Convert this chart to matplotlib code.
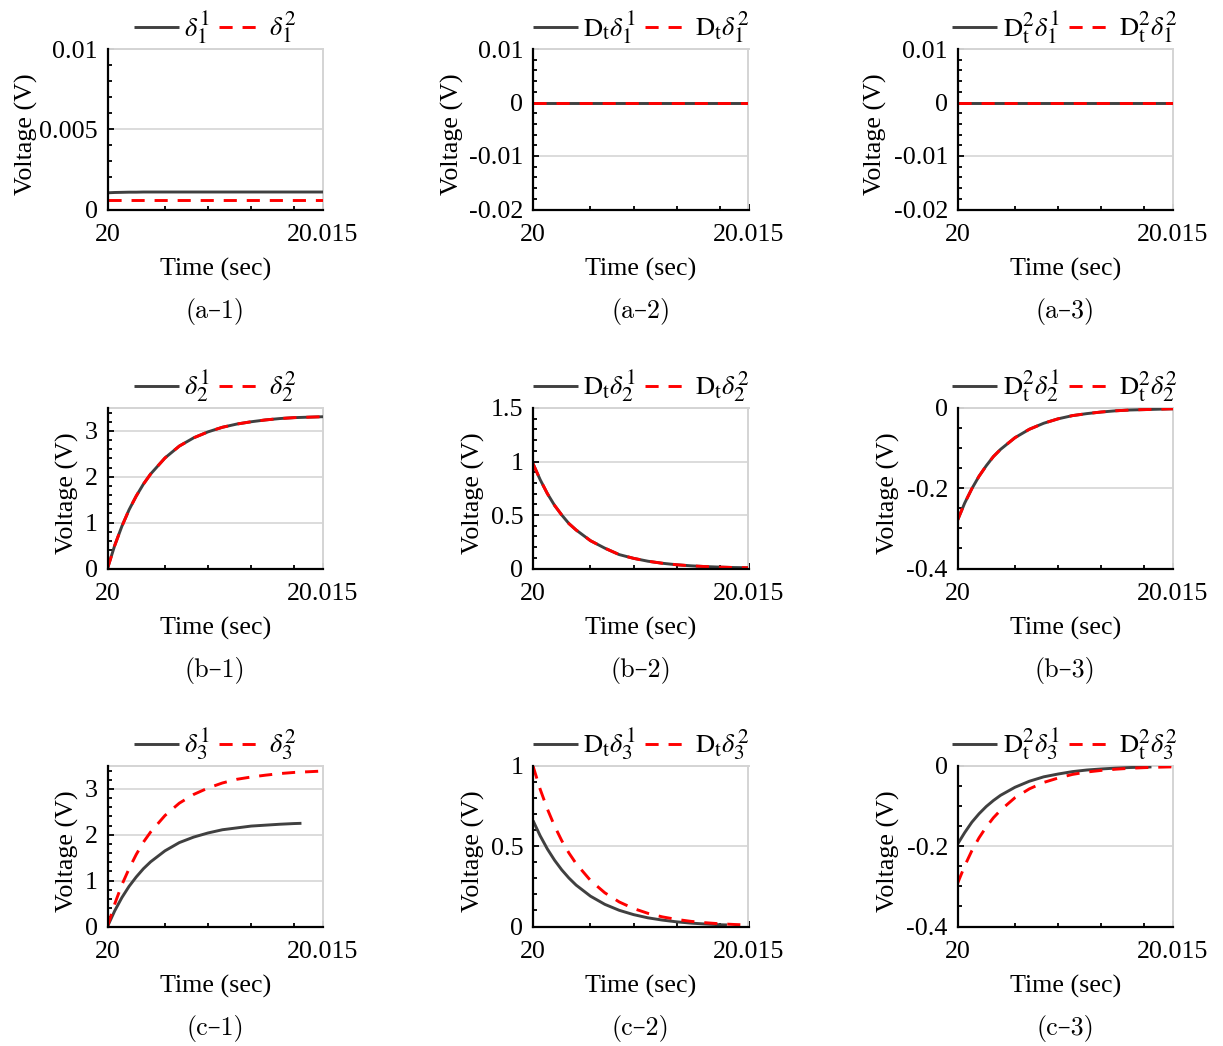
import numpy as np
import matplotlib
matplotlib.use('Agg')
import matplotlib.pyplot as plt
from matplotlib.ticker import FixedLocator, MultipleLocator

try:
    import matplotlib._mathtext as _mt
    _mt.SHRINK_FACTOR = 0.8
except Exception:
    pass

plt.rcParams['font.family'] = ['Liberation Serif', 'DejaVu Serif']
plt.rcParams['mathtext.fontset'] = 'stix'
plt.rcParams['axes.unicode_minus'] = False

# ---------------- data (time offsets in ms after t = 20 s) ----------------
t_ms = [0, 0.5, 1, 1.5, 2, 2.5, 3, 4, 5, 6, 7, 8, 9, 10, 11, 12, 13, 14, 15]
t_ms_short = [0, 0.5, 1, 1.5, 2, 2.5, 3, 4, 5, 6, 7, 8, 9, 10, 11, 12, 13, 13.5]

# row a
a1_solid = [0.00104, 0.00106, 0.00107, 0.00108, 0.00108, 0.00109, 0.00109, 0.00109, 0.00109,
            0.00109, 0.00109, 0.00109, 0.00109, 0.00109, 0.00109, 0.00109, 0.00109, 0.00109, 0.00109]
a1_dash = [0.00057, 0.00057, 0.00057, 0.00057, 0.00057, 0.00057, 0.00057, 0.00057, 0.00057,
           0.00057, 0.00057, 0.00057, 0.00057, 0.00057, 0.00057, 0.00057, 0.00057, 0.00057, 0.00057]
a2_solid = [0, 0, 0, 0, 0, 0, 0, 0, 0, 0, 0, 0, 0, 0, 0, 0, 0, 0, 0]
a2_dash = [0, 0, 0, 0, 0, 0, 0, 0, 0, 0, 0, 0, 0, 0, 0, 0, 0, 0, 0]
a3_solid = [0, 0, 0, 0, 0, 0, 0, 0, 0, 0, 0, 0, 0, 0, 0, 0, 0, 0, 0]
a3_dash = [0, 0, 0, 0, 0, 0, 0, 0, 0, 0, 0, 0, 0, 0, 0, 0, 0, 0, 0]

# row b
b1_solid = [0, 0.50, 0.92, 1.28, 1.58, 1.84, 2.06, 2.41, 2.67, 2.85, 2.98, 3.08, 3.15,
            3.20, 3.24, 3.27, 3.29, 3.30, 3.31]
b1_dash = [0, 0.50, 0.92, 1.28, 1.58, 1.84, 2.06, 2.41, 2.67, 2.85, 2.98, 3.08, 3.15,
           3.20, 3.24, 3.27, 3.29, 3.30, 3.31]
b2_solid = [0.98, 0.83, 0.70, 0.59, 0.50, 0.42, 0.36, 0.26, 0.19, 0.13, 0.095, 0.068,
            0.049, 0.035, 0.025, 0.018, 0.013, 0.009, 0.007]
b2_dash = [0.98, 0.83, 0.70, 0.59, 0.50, 0.42, 0.36, 0.26, 0.19, 0.13, 0.095, 0.068,
           0.049, 0.035, 0.025, 0.018, 0.013, 0.009, 0.007]
b3_solid = [-0.28, -0.237, -0.201, -0.170, -0.144, -0.121, -0.103, -0.074, -0.053, -0.038,
            -0.027, -0.019, -0.014, -0.010, -0.007, -0.005, -0.004, -0.003, -0.002]
b3_dash = [-0.28, -0.237, -0.201, -0.170, -0.144, -0.121, -0.103, -0.074, -0.053, -0.038,
           -0.027, -0.019, -0.014, -0.010, -0.007, -0.005, -0.004, -0.003, -0.002]

# row c (solid series stop near 20.0135 s)
c1_solid = [0, 0.34, 0.63, 0.875, 1.08, 1.26, 1.41, 1.65, 1.83, 1.95, 2.04, 2.11, 2.15,
            2.19, 2.21, 2.23, 2.245, 2.25]
c1_dash = [0, 0.49, 0.91, 1.26, 1.57, 1.84, 2.06, 2.42, 2.69, 2.88, 3.02, 3.13, 3.21,
           3.26, 3.30, 3.335, 3.36, 3.375, 3.39]
c2_solid = [0.66, 0.565, 0.483, 0.413, 0.353, 0.302, 0.258, 0.189, 0.138, 0.101, 0.074,
            0.054, 0.040, 0.029, 0.021, 0.0155, 0.011, 0.0097]
c2_dash = [1.0, 0.855, 0.732, 0.626, 0.535, 0.458, 0.392, 0.287, 0.210, 0.153, 0.112,
           0.082, 0.060, 0.044, 0.032, 0.0235, 0.017, 0.0126, 0.0092]
c3_solid = [-0.195, -0.166, -0.140, -0.119, -0.101, -0.086, -0.073, -0.053, -0.038, -0.027,
            -0.020, -0.014, -0.010, -0.0074, -0.0053, -0.0038, -0.0028, -0.0023]
c3_dash = [-0.293, -0.249, -0.211, -0.179, -0.152, -0.129, -0.110, -0.079, -0.057, -0.041,
           -0.030, -0.021, -0.015, -0.011, -0.008, -0.0057, -0.0041, -0.003, -0.0021]

# axis settings per panel
ylims = [[(0, 0.01), (-0.02, 0.01), (-0.02, 0.01)],
         [(0, 3.5), (0, 1.5), (-0.4, 0)],
         [(0, 3.5), (0, 1), (-0.4, 0)]]
yticks = [[[0, 0.005, 0.01], [-0.02, -0.01, 0, 0.01], [-0.02, -0.01, 0, 0.01]],
          [[0, 1, 2, 3], [0, 0.5, 1, 1.5], [-0.4, -0.2, 0]],
          [[0, 1, 2, 3], [0, 0.5, 1], [-0.4, -0.2, 0]]]
yticklabels = [[['0', '0.005', '0.01'], ['-0.02', '-0.01', '0', '0.01'], ['-0.02', '-0.01', '0', '0.01']],
               [['0', '1', '2', '3'], ['0', '0.5', '1', '1.5'], ['-0.4', '-0.2', '0']],
               [['0', '1', '2', '3'], ['0', '0.5', '1'], ['-0.4', '-0.2', '0']]]
yminor = [[0.001, 0.002, 0.002], [0.2, 0.1, 0.05], [0.2, 0.1, 0.05]]
xticks = [20, 20.015]
xticklabels = ['20', '20.015']
xminor = [20.004, 20.007, 20.010, 20.013]

legend_labels = [
    [(r'$\delta_1^1$', r'$\delta_1^2$'),
     (r'$\mathrm{D}_\mathrm{t}\delta_1^1$', r'$\mathrm{D}_\mathrm{t}\delta_1^2$'),
     (r'$\mathrm{D}_\mathrm{t}^2\delta_1^1$', r'$\mathrm{D}_\mathrm{t}^2\delta_1^2$')],
    [(r'$\delta_2^1$', r'$\delta_2^2$'),
     (r'$\mathrm{D}_\mathrm{t}\delta_2^1$', r'$\mathrm{D}_\mathrm{t}\delta_2^2$'),
     (r'$\mathrm{D}_\mathrm{t}^2\delta_2^1$', r'$\mathrm{D}_\mathrm{t}^2\delta_2^2$')],
    [(r'$\delta_3^1$', r'$\delta_3^2$'),
     (r'$\mathrm{D}_\mathrm{t}\delta_3^1$', r'$\mathrm{D}_\mathrm{t}\delta_3^2$'),
     (r'$\mathrm{D}_\mathrm{t}^2\delta_3^1$', r'$\mathrm{D}_\mathrm{t}^2\delta_3^2$')],
]
captions = [['(a–1)', '(a–2)', '(a–3)'],
            ['(b–1)', '(b–2)', '(b–3)'],
            ['(c–1)', '(c–2)', '(c–3)']]

series = [[(t_ms, a1_solid, t_ms, a1_dash), (t_ms, a2_solid, t_ms, a2_dash), (t_ms, a3_solid, t_ms, a3_dash)],
          [(t_ms, b1_solid, t_ms, b1_dash), (t_ms, b2_solid, t_ms, b2_dash), (t_ms, b3_solid, t_ms, b3_dash)],
          [(t_ms_short, c1_solid, t_ms, c1_dash), (t_ms_short, c2_solid, t_ms, c2_dash),
           (t_ms_short, c3_solid, t_ms, c3_dash)]]

# ---------------- layout (pixels) ----------------
W, H = 1223, 1046
col_left = [107.5, 533.0, 957.5]
row_top = [49.0, 408.0, 766.0]
ax_w, ax_h = 215.5, 160.5
ylabel_off = [[-81, -81, -82], [-40, -60, -69], [-40, -60, -69]]

FS = 18.7
fig = plt.figure(figsize=(W / 100, H / 100), dpi=100)

for r in range(3):
    for c in range(3):
        left = col_left[c] / W
        bottom = 1 - (row_top[r] + ax_h) / H
        ax = fig.add_axes([left, bottom, ax_w / W, ax_h / H])
        ts, ys, td, yd = series[r][c]
        ts = 20 + np.array(ts) / 1000.0
        td = 20 + np.array(td) / 1000.0
        ax.plot(ts, ys, color='#404040', lw=2.1, solid_capstyle='butt',
                label=legend_labels[r][c][0], zorder=3)
        ax.plot(td, yd, color='#ff0000', lw=2.1, dashes=(4.5, 3.4),
                label=legend_labels[r][c][1], zorder=4)
        ax.set_xlim(20, 20.015)
        ax.set_ylim(*ylims[r][c])
        ax.set_xticks(xticks)
        ax.set_xticklabels(xticklabels, fontsize=FS)
        ax.xaxis.set_minor_locator(FixedLocator(xminor))
        ax.set_yticks(yticks[r][c])
        ax.set_yticklabels(yticklabels[r][c], fontsize=FS)
        ax.yaxis.set_minor_locator(MultipleLocator(yminor[r][c]))
        ax.grid(axis='y', which='major', color='#d9d9d9', lw=1.3, zorder=0)
        ax.set_axisbelow(True)
        for s in ['top', 'right']:
            ax.spines[s].set_color('#d4d4d4')
            ax.spines[s].set_linewidth(1.4)
        for s in ['left', 'bottom']:
            ax.spines[s].set_color('black')
            ax.spines[s].set_linewidth(1.6)
            ax.spines[s].set_zorder(5)
        ax.tick_params(which='both', direction='in', top=False, right=False,
                       color='black', width=1.3)
        ax.tick_params(which='major', length=4.5)
        ax.tick_params(which='minor', length=3.2)
        ax.tick_params(axis='x', which='both', pad=10.5)
        ax.tick_params(axis='y', which='both', pad=7)

        ax.set_ylabel('Voltage (V)', fontsize=FS)
        ax.yaxis.label.set_verticalalignment('center')
        ax.yaxis.set_label_coords(ylabel_off[r][c] / ax_w, 0.47)
        ax.set_xlabel('Time (sec)', fontsize=FS)
        ax.xaxis.label.set_verticalalignment('center')
        ax.xaxis.set_label_coords(0.5, -59.5 / ax_h)

        ax.legend(loc='lower center', bbox_to_anchor=(0.5, 1.02), ncol=2, frameon=False,
                  fontsize=19, handlelength=1.7, handletextpad=0.2, columnspacing=0.35,
                  borderaxespad=0, borderpad=0)

        cx = (col_left[c] + ax_w / 2) / W
        cy = 1 - (row_top[r] + ax_h + 102) / H
        fig.text(cx, cy, captions[r][c], ha='center', va='center', fontsize=FS,
                 family=['cmr10', 'DejaVu Serif'])

fig.savefig('out.png', dpi=100)
